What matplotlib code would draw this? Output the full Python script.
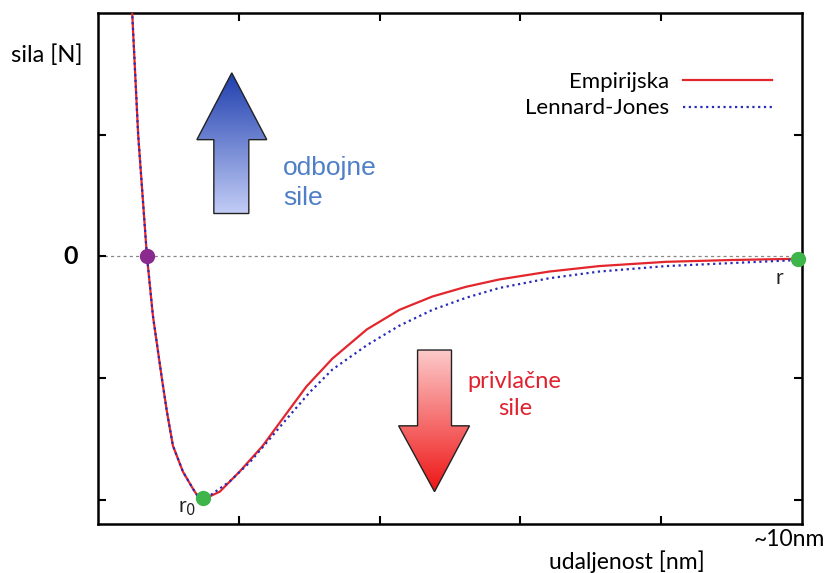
import matplotlib.pyplot as plt
import numpy as np
from matplotlib.patches import Polygon

# odbojni dio (zajednicki za obje krivulje)
x_rep = [0.46, 0.57, 0.695, 0.78, 0.908, 0.979, 1.064, 1.206, 1.348, 1.41, 1.489]
y_rep = [2.30, 1.00, 0.00, -0.49, -1.008, -1.279, -1.557, -1.770, -1.910, -1.965, -1.992]

# privlacni dio - empirijska
x_emp_att = [1.58, 1.73, 2.01, 2.34, 2.62, 2.96, 3.33, 3.82, 4.28, 4.75, 5.23, 5.70, 6.41, 7.12, 8.07, 9.01, 9.95]
y_emp_att = [-1.975, -1.934, -1.77, -1.557, -1.336, -1.07, -0.84, -0.60, -0.44, -0.33, -0.25, -0.19, -0.125,
             -0.08, -0.045, -0.03, -0.02]

# privlacni dio - Lennard-Jones
x_lj_att = [1.58, 1.87, 2.16, 2.44, 2.68, 3.01, 3.33, 3.82, 4.28, 4.75, 5.23, 5.70, 6.41, 7.12, 8.07, 9.01, 9.95]
y_lj_att = [-1.97, -1.85, -1.69, -1.50, -1.336, -1.115, -0.93, -0.73, -0.57, -0.44, -0.34, -0.26, -0.18,
            -0.125, -0.08, -0.055, -0.03]

x_emp = x_rep + x_emp_att
y_emp = y_rep + y_emp_att
x_lj = x_rep + x_lj_att
y_lj = y_rep + y_lj_att

# tocke
x_zero, x_r0, x_r = 0.695, 1.49, 9.95
y_r0, y_r = -1.99, -0.02

plt.rcParams['font.family'] = ['Lato', 'DejaVu Sans']

fig = plt.figure(figsize=(8.28, 5.73), dpi=100)
ax = fig.add_axes([0.1184, 0.0855, 0.8502, 0.8918])
ax.set_xlim(0, 10)
ax.set_ylim(-2.2, 2.0)

ax.axhline(0, color='#888888', lw=0.9, ls=(0, (2.5, 2.5)), zorder=1)

ax.plot(x_emp, y_emp, color='#e3262c', lw=1.6, label='Empirijska', zorder=3)
ax.plot(x_lj, y_lj, color='#2a2ab8', lw=1.6, ls=(0, (1, 1.6)), label='Lennard-Jones', zorder=4)

ax.plot([x_zero], [0], 'o', color='#8b2a8e', ms=10, zorder=5)
ax.plot([x_r0, x_r], [y_r0, y_r], 'o', color='#3db54a', ms=10, zorder=5, clip_on=False)


def gradient_arrow(pts, top_color, bottom_color):
    poly = Polygon(pts, closed=True, facecolor='none', edgecolor='#222222', lw=1.0, zorder=6)
    ax.add_patch(poly)
    xs = [p[0] for p in pts]
    ys = [p[1] for p in pts]
    c0 = np.array(plt.matplotlib.colors.to_rgb(top_color))
    c1 = np.array(plt.matplotlib.colors.to_rgb(bottom_color))
    t = np.linspace(0, 1, 256)[:, None]
    img = (c0 * (1 - t) + c1 * t)[:, None, :]
    im = ax.imshow(img, extent=[min(xs), max(xs), min(ys), max(ys)], aspect='auto',
                   origin='upper', zorder=5.5)
    im.set_clip_path(poly)


# strelica: odbojne sile
gradient_arrow([(1.645, 0.352), (1.645, 0.959), (1.404, 0.959), (1.90, 1.508),
                (2.397, 0.959), (2.142, 0.959), (2.142, 0.352)], '#1f3fae', '#c3cdf6')
# strelica: privlacne sile
gradient_arrow([(4.539, -0.770), (4.539, -1.393), (4.270, -1.393), (4.78, -1.934),
                (5.277, -1.393), (5.021, -1.393), (5.021, -0.770)], '#fdcaca', '#ee1414')

ax.text(2.63, 0.60, 'odbojne\nsile', color='#4f7fc6', fontsize=19, family=['Liberation Sans'],
        ha='left', va='center', linespacing=1.3)
ax.text(5.92, -1.14, 'privlačne\nsile', color='#e0222f', fontsize=17,
        ha='center', va='center', linespacing=1.3)

ax.text(1.27, -2.07, 'r$_0$', fontsize=15, ha='center', va='center', color='#222222')
ax.text(9.68, -0.18, 'r', fontsize=15, ha='center', va='center', color='#222222')

ax.tick_params(which='both', direction='in', length=6, width=1.5, top=True, right=True,
               labelleft=False, labelbottom=False)
ax.set_xticks([2, 4, 6, 8])
ax.set_yticks([-2, -1, 0, 1])
for s in ax.spines.values():
    s.set_linewidth(1.8)

fig.text(47 / 828, 1 - 55 / 573, 'sila [N]', fontsize=17, ha='center', va='center')
fig.text(71 / 828, 1 - 257 / 573, '0', fontsize=18, fontweight='bold', ha='center', va='center')
fig.text(627 / 828, 1 - 562 / 573, 'udaljenost [nm]', fontsize=16.5, ha='center', va='center')
fig.text(789 / 828, 1 - 540 / 573, '~10nm', fontsize=16.5, ha='center', va='center')

ax.legend(loc='upper right', bbox_to_anchor=(0.957, 0.885), frameon=False, markerfirst=False,
          fontsize=16, handlelength=4.0, handletextpad=0.6, labelspacing=0.3,
          borderpad=0, borderaxespad=0)

fig.savefig('out.png', dpi=100)
